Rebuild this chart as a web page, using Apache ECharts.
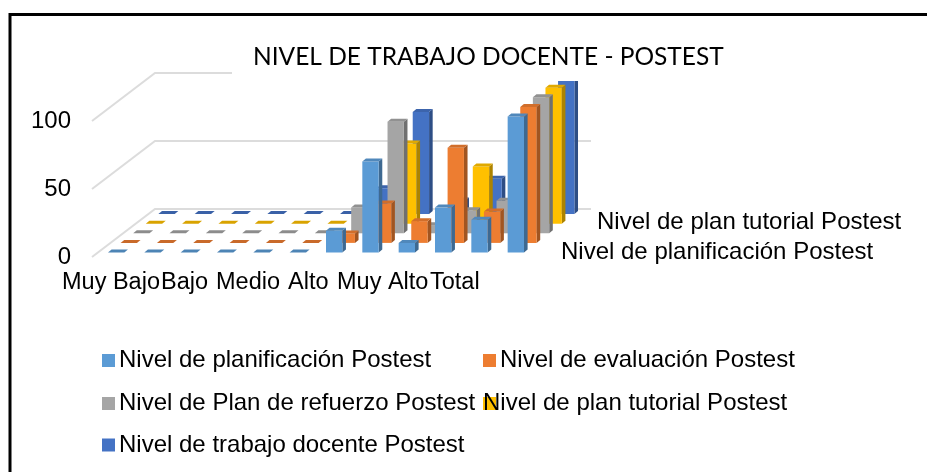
<!DOCTYPE html>
<html>
<head>
<meta charset="utf-8">
<style>html,body{margin:0;padding:0;background:#fff}#c{width:927px;height:472px}</style>
<script src="https://cdn.jsdelivr.net/npm/echarts@6/dist/echarts.min.js"></script>
</head>
<body>
<div id="c"></div>
<script>
const categories = ['1','2','3','4','5','6','7','8','9','10','11','12'];
const xLabels = ['Muy Bajo','Bajo','Medio','Alto','Muy Alto','Total'];
const yTicks = [0,50,100];
const seriesNames = ['Nivel de planificación Postest','Nivel de evaluación Postest','Nivel de Plan de refuerzo Postest','Nivel de plan tutorial Postest','Nivel de trabajo docente Postest'];
const depthLabels = ['Nivel de planificación Postest','Nivel de plan tutorial Postest'];
const planificacion = [0,0,0,0,0,0,16,67,7,33,24,100];
const evaluacion    = [0,0,0,0,0,0,7,29,16,70,23,100];
const refuerzo      = [0,0,0,0,0,0,19,82,6,17,24,100];
const tutorial      = [0,0,0,0,0,0,10,59,6,42,24,100];
const trabajo       = [0,0,0,0,0,0,19,75,10,26,20,100];
const values = [planificacion,evaluacion,refuerzo,tutorial,trabajo];
const colors = ['#5B9BD5','#ED7D31','#A5A5A5','#FFC000','#4472C4'];

const FONT = 'Liberation Sans';
const FS = 24;
const rowDX = 12.6, rowDY = 9.6, startDX = 6, startDY = 4.5, barDX = 3.6, barDY = 3;
const backDX = 63, backDY = 48;

function shade(c, f){
  const a = echarts.color.parse(c);
  return 'rgb(' + Math.round(a[0]*f) + ',' + Math.round(a[1]*f) + ',' + Math.round(a[2]*f) + ')';
}
function poly(pts, fill){ return {type:'polygon', shape:{points:pts}, style:{fill:fill}}; }

function renderBar(params, api){
  const row = params.seriesIndex - 1;
  const idx = api.value(0), v = api.value(1);
  const top = api.coord([idx, v]), base = api.coord([idx, 0]);
  const w = api.size([1,0])[0] * 0.45;
  const sx = row*rowDX + startDX, sy = row*rowDY + startDY;
  const x0 = top[0] - w/2 + sx, x1 = x0 + w;
  const yT = top[1] - sy, yB = base[1] - sy;
  const c = colors[row];
  const children = [];
  const tp = poly([[x0,yT],[x1,yT],[x1+barDX,yT-barDY],[x0+barDX,yT-barDY]], shade(c, v>0 ? 0.88 : 0.85));
  if (v>0){
    children.push(poly([[x1,yT],[x1+barDX,yT-barDY],[x1+barDX,yB-barDY],[x1,yB]], shade(c,0.68)));
    children.push(poly([[x0,yT],[x1,yT],[x1,yB],[x0,yB]], c));
  }
  children.push(tp);
  return {type:'group', children:children};
}

function renderWall(params, api){
  const v = api.value(0);
  const p = api.coord([0, v]);
  const cs = params.coordSys;
  const x0 = cs.x, x1 = cs.x + cs.width;
  return {type:'polyline', shape:{points:[[x0,p[1]],[x0+backDX,p[1]-backDY],[x1+backDX,p[1]-backDY]]},
    style:{stroke:'#dcdcdc', lineWidth:2, fill:null}};
}

const series = [{
  type:'custom', name:'muro', coordinateSystem:'cartesian2d', z:2, silent:true,
  data: yTicks.map(function(t){return [t];}), encode:{y:0}, renderItem:renderWall
}];
seriesNames.forEach(function(n,i){
  series.push({
    type:'custom', name:n, coordinateSystem:'cartesian2d', z:14-i, itemStyle:{color:colors[i]},
    data: values[i].map(function(v,k){return [k,v];}), encode:{x:0,y:1}, renderItem:renderBar
  });
});

const legendPos = [[102,348.5],[483,348.5],[102,391.5],[483,391.5],[102,433]];
const legends = seriesNames.map(function(n,i){
  return {
    data:[n], left:legendPos[i][0], top:legendPos[i][1], padding:0, orient:'horizontal',
    icon:'rect', itemWidth:13, itemHeight:13, z:20,
    textStyle:{fontFamily:FONT, fontSize:FS, color:'#000', padding: i===3 ? [0,0,0,-18] : [0,0,0,-1]}
  };
});

const xLabelLeft = [62,161,216,288,337,430];
const graphics = xLabels.map(function(t,i){
  return {type:'text', left:xLabelLeft[i], top:271, z:25, style:{text:t, font:'23.5px "'+FONT+'"', fill:'#000'}};
});
graphics.push({type:'text', left:561, top:240, z:25, style:{text:depthLabels[0], font:FS+'px "'+FONT+'"', fill:'#000'}});
graphics.push({type:'text', left:597, top:210, z:25, style:{text:depthLabels[1], font:FS+'px "'+FONT+'"', fill:'#000'}});
graphics.push({type:'polyline', z:30, shape:{points:[[10,472],[10,14.5],[927,14.5]]}, style:{stroke:'#000', lineWidth:3, fill:null}});

const chart = echarts.init(document.getElementById('c'), null, {renderer:'canvas'});
chart.setOption({
  animation:false,
  backgroundColor:'#fff',
  title:{text:'NIVEL DE TRABAJO DOCENTE - POSTEST', left:232, top:34, z:20, backgroundColor:'#fff',
    padding:[11,21,11,21], textStyle:{fontFamily:'Lato', fontWeight:'normal', fontSize:24.5, color:'#000'}},
  grid:{left:92, width:436, top:121, height:136},
  xAxis:{type:'category', data:categories, boundaryGap:true, axisLine:{show:false}, axisTick:{show:false}, axisLabel:{show:false}},
  yAxis:{type:'value', min:0, max:100, interval:50, axisLine:{show:false}, axisTick:{show:false}, splitLine:{show:false},
    axisLabel:{fontFamily:FONT, fontSize:FS, color:'#000', margin:21, padding:[0,0,2,0]}},
  legend:legends,
  graphic:graphics,
  series:series
});
</script>
</body>
</html>
